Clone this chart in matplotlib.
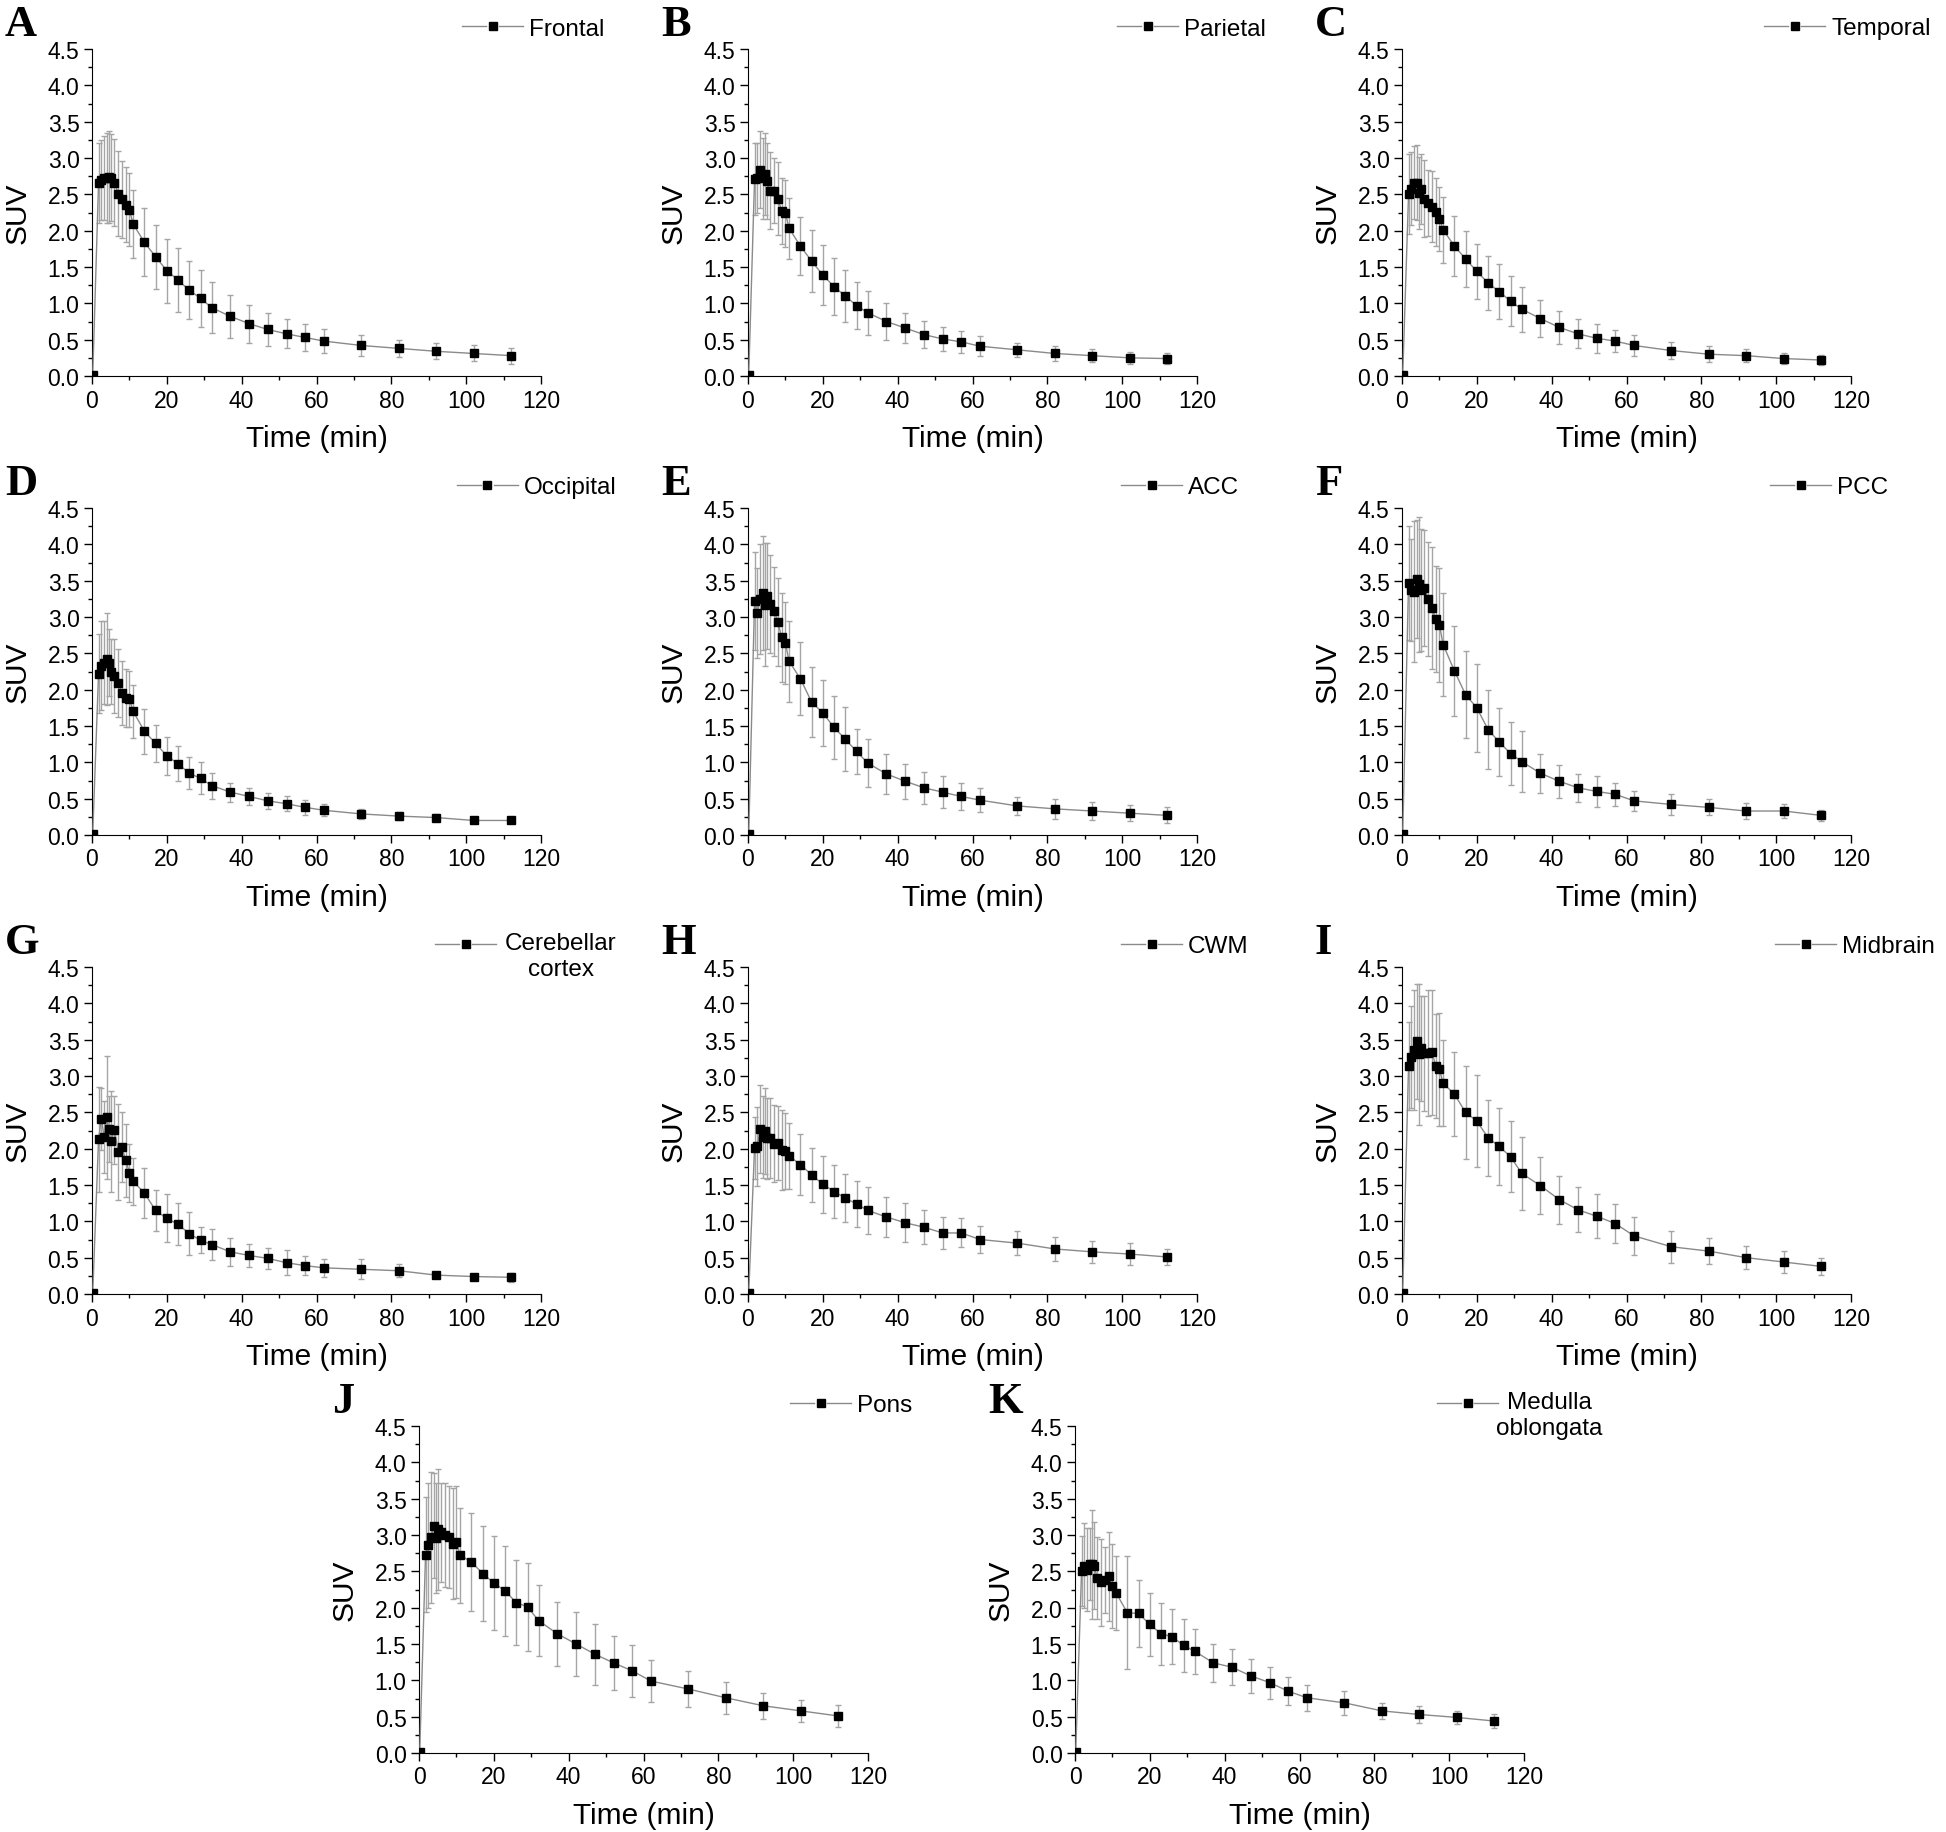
import numpy as np
import matplotlib.pyplot as plt
from matplotlib.lines import Line2D
from matplotlib.ticker import MultipleLocator, FormatStrFormatter

plt.rcParams['font.family'] = ['Liberation Sans', 'DejaVu Sans']

# frame mid-times (min)
time = [0.2, 1.75, 2.5, 3.25, 4.0, 4.5, 5.0, 6.0, 7, 8, 9, 10, 11,
        14, 17, 20, 23, 26, 29, 32, 37, 42, 47, 52, 57, 62, 72, 82, 92, 102, 112]

frontal = [0.02, 2.65, 2.70, 2.72, 2.73, 2.74, 2.73, 2.66, 2.51, 2.43, 2.36, 2.29, 2.09,
           1.84, 1.64, 1.45, 1.32, 1.18, 1.07, 0.94, 0.82, 0.72, 0.64, 0.58, 0.53, 0.48, 0.42, 0.38, 0.34, 0.31, 0.28]
frontal_sd = [0, 0.55, 0.55, 0.58, 0.62, 0.63, 0.60, 0.60, 0.58, 0.53, 0.52, 0.50, 0.47,
              0.47, 0.44, 0.44, 0.44, 0.40, 0.39, 0.35, 0.30, 0.26, 0.23, 0.20, 0.18, 0.16, 0.15, 0.12, 0.11, 0.11, 0.11]

parietal = [0.02, 2.71, 2.72, 2.84, 2.72, 2.78, 2.68, 2.55, 2.55, 2.44, 2.27, 2.24, 2.03,
            1.79, 1.58, 1.39, 1.23, 1.10, 0.97, 0.87, 0.75, 0.66, 0.57, 0.51, 0.47, 0.41, 0.36, 0.31, 0.28, 0.25, 0.24]
parietal_sd = [0, 0.50, 0.48, 0.53, 0.56, 0.57, 0.52, 0.53, 0.45, 0.50, 0.46, 0.46, 0.42,
               0.40, 0.43, 0.41, 0.39, 0.36, 0.33, 0.30, 0.26, 0.21, 0.19, 0.17, 0.15, 0.14, 0.10, 0.10, 0.09, 0.08, 0.07]

temporal = [0.02, 2.50, 2.58, 2.66, 2.66, 2.52, 2.57, 2.44, 2.38, 2.33, 2.26, 2.16, 2.01,
            1.79, 1.61, 1.44, 1.28, 1.16, 1.03, 0.92, 0.79, 0.67, 0.58, 0.52, 0.48, 0.42, 0.35, 0.30, 0.28, 0.24, 0.22]
temporal_sd = [0, 0.55, 0.50, 0.50, 0.52, 0.50, 0.48, 0.53, 0.46, 0.49, 0.47, 0.44, 0.45,
               0.41, 0.39, 0.38, 0.37, 0.38, 0.34, 0.31, 0.25, 0.23, 0.20, 0.20, 0.15, 0.15, 0.12, 0.11, 0.09, 0.08, 0.07]

occipital = [0.02, 2.22, 2.33, 2.37, 2.42, 2.37, 2.25, 2.19, 2.09, 1.95, 1.89, 1.87, 1.70,
             1.43, 1.26, 1.09, 0.98, 0.85, 0.78, 0.68, 0.59, 0.53, 0.47, 0.43, 0.38, 0.34, 0.29, 0.26, 0.24, 0.20, 0.20]
occipital_sd = [0, 0.54, 0.61, 0.57, 0.63, 0.46, 0.45, 0.51, 0.47, 0.44, 0.40, 0.39, 0.36,
                0.31, 0.26, 0.26, 0.24, 0.22, 0.22, 0.18, 0.13, 0.12, 0.11, 0.10, 0.10, 0.08, 0.07, 0.05, 0.05, 0.03, 0.03]

acc = [0.02, 3.22, 3.06, 3.25, 3.33, 3.17, 3.29, 3.18, 3.08, 2.93, 2.72, 2.64, 2.39,
       2.15, 1.83, 1.68, 1.48, 1.32, 1.15, 0.99, 0.84, 0.74, 0.65, 0.59, 0.53, 0.48, 0.40, 0.36, 0.33, 0.30, 0.27]
acc_sd = [0, 0.67, 0.62, 0.76, 0.79, 0.85, 0.73, 0.68, 0.61, 0.60, 0.61, 0.56, 0.56,
          0.50, 0.48, 0.45, 0.43, 0.44, 0.31, 0.33, 0.28, 0.24, 0.22, 0.22, 0.19, 0.17, 0.12, 0.14, 0.12, 0.11, 0.11]

pcc = [0.02, 3.47, 3.37, 3.35, 3.52, 3.45, 3.37, 3.40, 3.25, 3.13, 2.97, 2.89, 2.62,
       2.26, 1.93, 1.75, 1.45, 1.28, 1.12, 1.01, 0.85, 0.74, 0.65, 0.60, 0.56, 0.47, 0.42, 0.38, 0.33, 0.33, 0.27]
pcc_sd = [0, 0.78, 0.70, 0.97, 0.81, 0.93, 0.84, 0.80, 0.78, 0.84, 0.73, 0.79, 0.71,
          0.62, 0.60, 0.61, 0.54, 0.47, 0.43, 0.42, 0.27, 0.23, 0.19, 0.21, 0.16, 0.14, 0.14, 0.11, 0.11, 0.10, 0.08]

cerebellar = [0.02, 2.13, 2.41, 2.16, 2.43, 2.27, 2.10, 2.26, 1.96, 2.02, 1.84, 1.67, 1.55,
              1.39, 1.15, 1.04, 0.96, 0.83, 0.74, 0.68, 0.58, 0.53, 0.49, 0.43, 0.39, 0.36, 0.34, 0.32, 0.26, 0.24, 0.23]
cerebellar_sd = [0, 0.72, 0.43, 0.50, 0.85, 0.45, 0.70, 0.47, 0.66, 0.48, 0.50, 0.40, 0.32,
                 0.35, 0.28, 0.33, 0.29, 0.30, 0.18, 0.21, 0.19, 0.16, 0.14, 0.17, 0.13, 0.12, 0.14, 0.09, 0.04, 0.04, 0.06]

cwm = [0.02, 2.01, 2.03, 2.27, 2.16, 2.24, 2.14, 2.15, 2.07, 2.08, 1.98, 1.97, 1.90,
       1.78, 1.64, 1.51, 1.41, 1.32, 1.24, 1.15, 1.06, 0.98, 0.92, 0.84, 0.84, 0.75, 0.70, 0.62, 0.58, 0.55, 0.51]
cwm_sd = [0, 0.43, 0.54, 0.61, 0.57, 0.59, 0.56, 0.55, 0.53, 0.51, 0.55, 0.52, 0.46,
          0.42, 0.37, 0.39, 0.36, 0.33, 0.32, 0.32, 0.28, 0.27, 0.23, 0.22, 0.20, 0.19, 0.17, 0.16, 0.15, 0.15, 0.11]

midbrain = [0.02, 3.14, 3.26, 3.36, 3.48, 3.30, 3.38, 3.31, 3.32, 3.33, 3.14, 3.09, 2.90,
            2.75, 2.50, 2.38, 2.15, 2.03, 1.89, 1.66, 1.49, 1.30, 1.16, 1.07, 0.97, 0.80, 0.65, 0.59, 0.50, 0.44, 0.38]
midbrain_sd = [0, 0.61, 0.70, 0.83, 0.79, 0.97, 0.72, 0.79, 0.87, 0.86, 0.72, 0.78, 0.59,
               0.58, 0.64, 0.63, 0.52, 0.53, 0.49, 0.50, 0.39, 0.33, 0.31, 0.30, 0.27, 0.26, 0.22, 0.18, 0.16, 0.15, 0.12]

pons = [0.02, 2.73, 2.86, 2.97, 3.13, 2.96, 3.08, 3.04, 3.00, 2.97, 2.88, 2.90, 2.72,
        2.63, 2.47, 2.34, 2.23, 2.07, 2.01, 1.82, 1.64, 1.50, 1.36, 1.24, 1.13, 0.99, 0.88, 0.76, 0.65, 0.58, 0.51]
pons_sd = [0, 0.79, 0.86, 0.90, 0.72, 0.76, 0.83, 0.68, 0.72, 0.70, 0.76, 0.77, 0.65,
           0.67, 0.66, 0.65, 0.62, 0.58, 0.60, 0.49, 0.44, 0.44, 0.42, 0.37, 0.36, 0.29, 0.25, 0.22, 0.18, 0.15, 0.15]

medulla = [0.02, 2.50, 2.58, 2.52, 2.60, 2.60, 2.58, 2.41, 2.35, 2.38, 2.43, 2.30, 2.20,
           1.93, 1.92, 1.77, 1.64, 1.60, 1.48, 1.40, 1.24, 1.18, 1.06, 0.97, 0.85, 0.76, 0.69, 0.58, 0.53, 0.49, 0.44]
medulla_sd = [0, 0.48, 0.59, 0.57, 0.50, 0.75, 0.60, 0.56, 0.60, 0.45, 0.61, 0.58, 0.51,
              0.78, 0.46, 0.43, 0.43, 0.38, 0.37, 0.31, 0.26, 0.25, 0.24, 0.22, 0.19, 0.18, 0.17, 0.11, 0.12, 0.09, 0.09]

W, H = 1946, 1833
AW, AH = 449, 327

# letter, legend label, mean, sd, axes left px, axes top px, legend handle offset px, text offset px
panels = [
    ('A', 'Frontal', frontal, frontal_sd, 92, 50, 370, 67),
    ('B', 'Parietal', parietal, parietal_sd, 748, 50, 369, 67),
    ('C', 'Temporal', temporal, temporal_sd, 1402, 50, 362, 67),
    ('D', 'Occipital', occipital, occipital_sd, 92, 509, 365, 67),
    ('E', 'ACC', acc, acc_sd, 748, 509, 373, 67),
    ('F', 'PCC', pcc, pcc_sd, 1402, 509, 368, 67),
    ('G', 'Cerebellar\ncortex', cerebellar, cerebellar_sd, 92, 968, 343, 126),
    ('H', 'CWM', cwm, cwm_sd, 748, 968, 373, 67),
    ('I', 'Midbrain', midbrain, midbrain_sd, 1402, 968, 373, 67),
    ('J', 'Pons', pons, pons_sd, 419, 1427, 371, 67),
    ('K', 'Medulla\noblongata', medulla, medulla_sd, 1075, 1427, 362, 112),
]

line_c = '#8a8a8a'
err_c = '#a5a5a5'

fig = plt.figure(figsize=(W / 100, H / 100), dpi=100)


def fx(x):
    return x / W


def fy(y):
    return 1 - y / H


for letter, label, mean, sd, left, top, hoff, toff in panels:
    ax = fig.add_axes([fx(left), fy(top + AH), AW / W, AH / H])
    ax.errorbar(time, mean, yerr=sd, fmt='none', ecolor=err_c, elinewidth=1,
                capsize=2.5, capthick=1, zorder=2)
    ax.plot(time, mean, color=line_c, lw=1, marker='s', ms=6.3, mfc='k', mec='k', zorder=3)
    ax.set_xlim(0, 120)
    ax.set_ylim(0, 4.5)
    ax.xaxis.set_major_locator(MultipleLocator(20))
    ax.xaxis.set_minor_locator(MultipleLocator(10))
    ax.yaxis.set_major_locator(MultipleLocator(0.5))
    ax.yaxis.set_minor_locator(MultipleLocator(0.25))
    ax.yaxis.set_major_formatter(FormatStrFormatter('%.1f'))
    ax.spines['top'].set_visible(False)
    ax.spines['right'].set_visible(False)
    ax.tick_params(which='major', direction='out', length=6, width=1, labelsize=16.5, pad=3)
    ax.tick_params(which='minor', direction='out', length=3, width=1)
    ax.set_xlabel('Time (min)', fontsize=21.5)
    ax.set_ylabel('SUV', fontsize=21.5)
    ax.xaxis.set_label_coords(0.5, -48 / AH)
    ax.yaxis.set_label_coords(-60 / AW, 0.5)

    # legend drawn by hand, above the top right of the axes
    hx = left + hoff
    hy = top - 23
    fig.add_artist(Line2D([fx(hx), fx(hx + 24)], [fy(hy), fy(hy)], transform=fig.transFigure,
                          color=line_c, lw=1))
    fig.add_artist(Line2D([fx(hx + 37), fx(hx + 61)], [fy(hy), fy(hy)], transform=fig.transFigure,
                          color=line_c, lw=1))
    fig.add_artist(Line2D([fx(hx + 30.5)], [fy(hy)], transform=fig.transFigure,
                          marker='s', ms=6, color='k', ls='none'))
    if '\n' in label:
        fig.text(fx(hx + toff), fy(hy - 12), label, fontsize=17.5, ha='center', va='top',
                 multialignment='center', linespacing=1.25)
    else:
        fig.text(fx(hx + toff), fy(hy + 8.5), label, fontsize=17.5, ha='left', va='baseline')

    fig.text(fx(left - 87), fy(top - 25), letter, fontsize=32, fontweight='bold',
             family=['Liberation Serif', 'DejaVu Serif'], ha='left', va='center')

fig.savefig('out.png', dpi=100)
